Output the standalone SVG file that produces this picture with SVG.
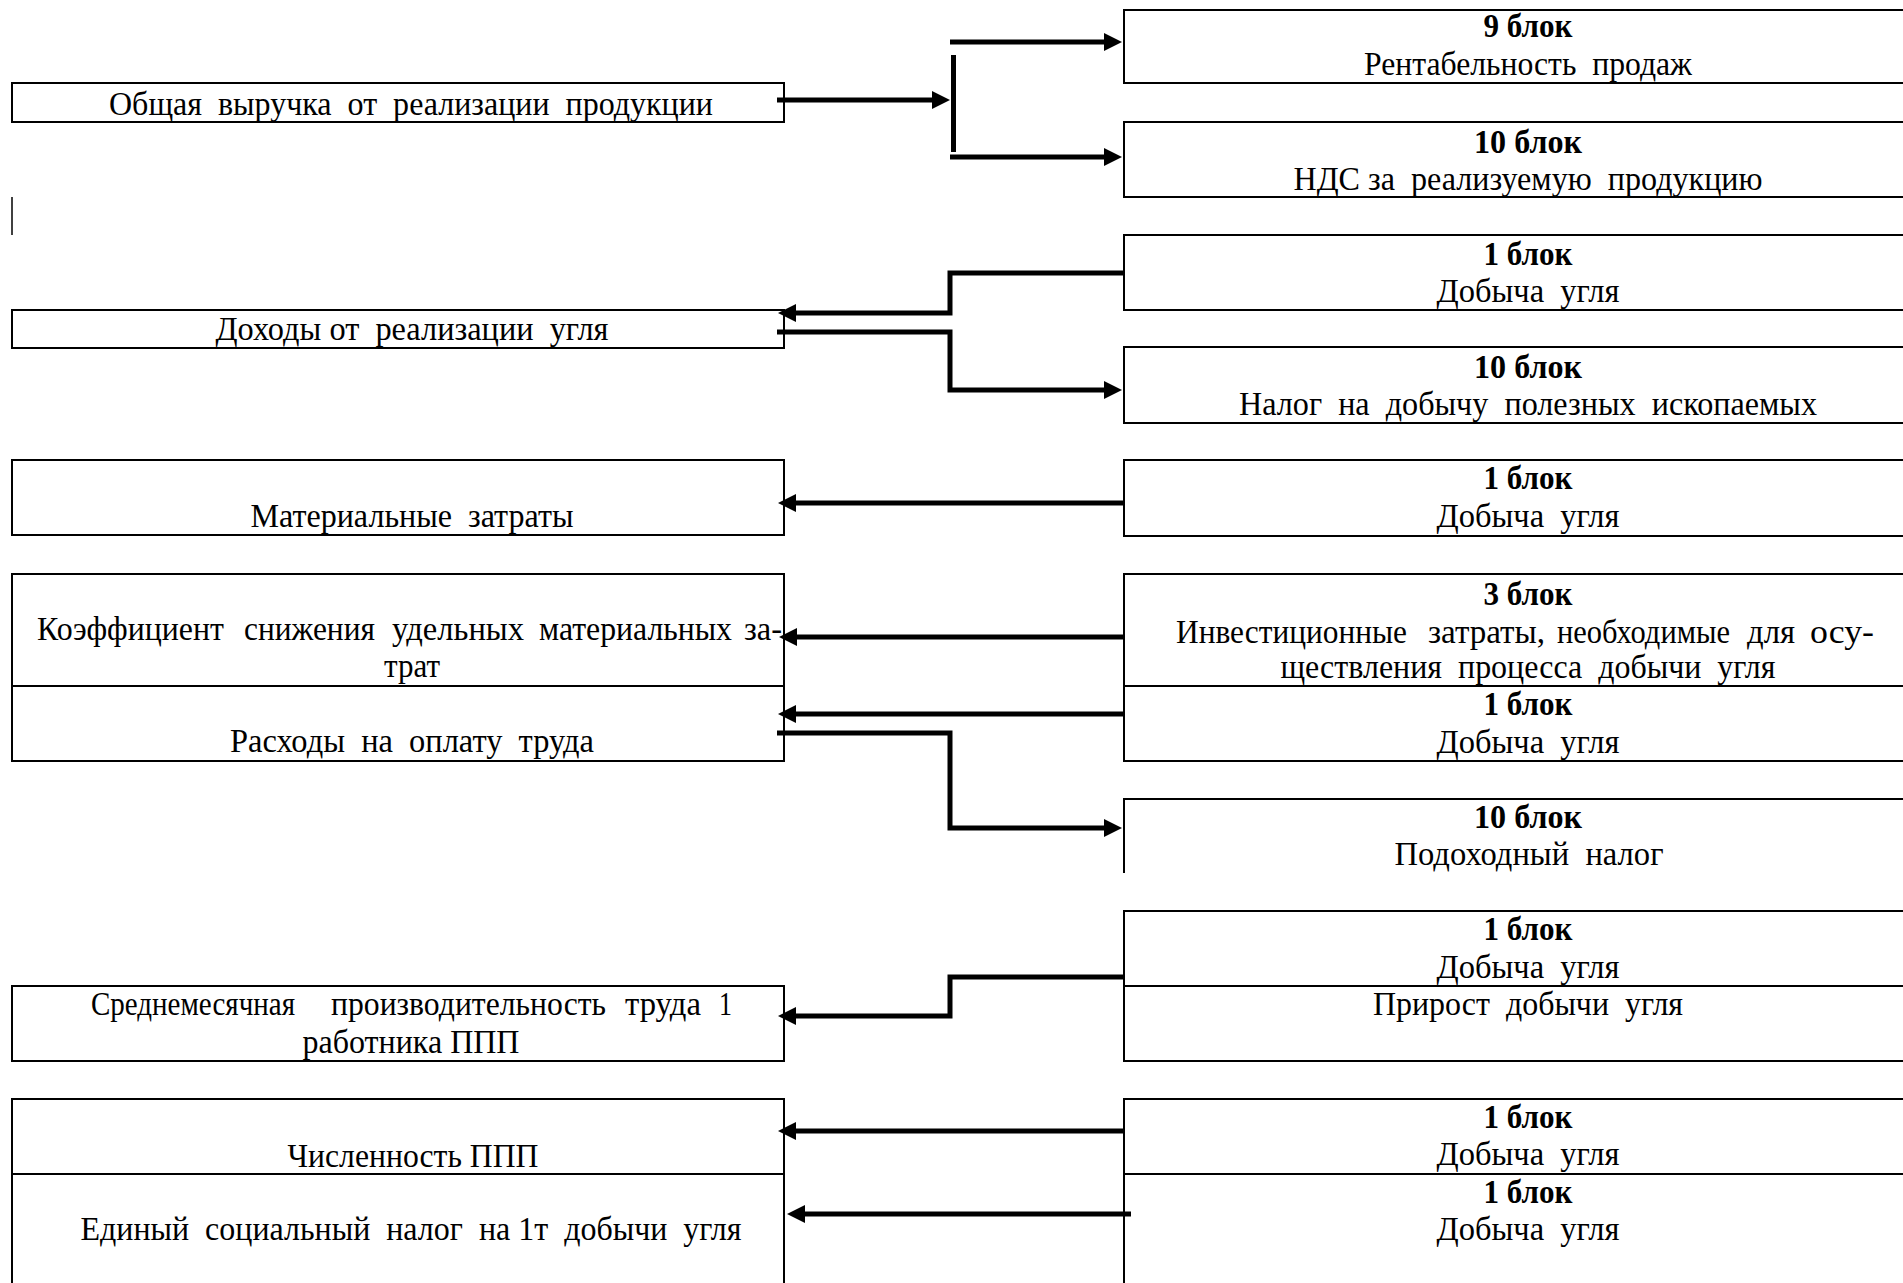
<svg xmlns="http://www.w3.org/2000/svg" width="1903" height="1283" viewBox="0 0 1903 1283">
  <style>
    .box { fill: none; stroke: #000; stroke-width: 2; }
    .t { font-family: "Liberation Serif", "Times New Roman", serif; font-size: 34px; fill: #000; text-anchor: middle; white-space: pre; }
    .j { text-anchor: start; }
    .b { font-weight: bold; }
    .c { fill: none; stroke: #000; stroke-width: 5; stroke-linejoin: miter; }
  </style>
  <defs>
    <marker id="ah" markerUnits="userSpaceOnUse" markerWidth="18" markerHeight="18" viewBox="0 0 18 18" refX="8" refY="9" orient="auto">
      <path d="M0,0 L18,9 L0,18 z" fill="#000"/>
    </marker>
  </defs>
  <rect width="1903" height="1283" fill="#fff"/>

  <!-- left column: indicators -->
  <g id="n-revenue-total">
    <rect class="box" x="12" y="83" width="772" height="39"/>
    <text class="t" x="411" y="115" textLength="604" lengthAdjust="spacingAndGlyphs">Общая  выручка  от  реализации  продукции</text>
  </g>
  <g id="n-coal-income">
    <rect class="box" x="12" y="310" width="772" height="38"/>
    <text class="t" x="412" y="340" textLength="393" lengthAdjust="spacingAndGlyphs">Доходы от  реализации  угля</text>
  </g>
  <g id="n-material-costs">
    <rect class="box" x="12" y="460" width="772" height="75"/>
    <text class="t" x="412" y="527" textLength="323" lengthAdjust="spacingAndGlyphs">Материальные  затраты</text>
  </g>
  <g id="n-material-coef">
    <rect class="box" x="12" y="574" width="772" height="112"/>
    <!-- justified first line, one word per text run -->
    <text class="t j" x="37" y="640" textLength="187" lengthAdjust="spacingAndGlyphs">Коэффициент</text>
    <text class="t j" x="244" y="640" textLength="131" lengthAdjust="spacingAndGlyphs">снижения</text>
    <text class="t j" x="392" y="640" textLength="132" lengthAdjust="spacingAndGlyphs">удельных</text>
    <text class="t j" x="539" y="640" textLength="193" lengthAdjust="spacingAndGlyphs">материальных</text>
    <text class="t j" x="744" y="640" textLength="38" lengthAdjust="spacingAndGlyphs">за-</text>
    <text class="t" x="412" y="677" textLength="56" lengthAdjust="spacingAndGlyphs">трат</text>
  </g>
  <g id="n-labour-costs">
    <rect class="box" x="12" y="686" width="772" height="75"/>
    <text class="t" x="412" y="752" textLength="364" lengthAdjust="spacingAndGlyphs">Расходы  на  оплату  труда</text>
  </g>
  <g id="n-productivity">
    <rect class="box" x="12" y="986" width="772" height="75"/>
    <text class="t j" x="91" y="1015" textLength="204" lengthAdjust="spacingAndGlyphs">Среднемесячная</text>
    <text class="t j" x="331" y="1015" textLength="275" lengthAdjust="spacingAndGlyphs">производительность</text>
    <text class="t j" x="625" y="1015" textLength="76" lengthAdjust="spacingAndGlyphs">труда</text>
    <text class="t j" x="719" y="1015" textLength="13" lengthAdjust="spacingAndGlyphs">1</text>
    <text class="t" x="411" y="1053" textLength="217" lengthAdjust="spacingAndGlyphs">работника ППП</text>
  </g>
  <g id="n-headcount">
    <rect class="box" x="12" y="1099" width="772" height="75"/>
    <text class="t" x="413" y="1167" textLength="251" lengthAdjust="spacingAndGlyphs">Численность ППП</text>
  </g>
  <g id="n-social-tax">
    <rect class="box" x="12" y="1174" width="772" height="130"/>
    <text class="t" x="411" y="1240" textLength="661" lengthAdjust="spacingAndGlyphs">Единый  социальный  налог  на 1т  добычи  угля</text>
  </g>

  <!-- right column: model blocks -->
  <g id="r-block9-profitability">
    <rect class="box" x="1124" y="10" width="820" height="73"/>
    <text class="t b" x="1528" y="37" textLength="89" lengthAdjust="spacingAndGlyphs">9 блок</text>
    <text class="t" x="1528" y="75" textLength="328" lengthAdjust="spacingAndGlyphs">Рентабельность  продаж</text>
  </g>
  <g id="r-block10-vat">
    <rect class="box" x="1124" y="122" width="820" height="75"/>
    <text class="t b" x="1528" y="153" textLength="108" lengthAdjust="spacingAndGlyphs">10 блок</text>
    <text class="t" x="1528" y="190" textLength="469" lengthAdjust="spacingAndGlyphs">НДС за  реализуемую  продукцию</text>
  </g>
  <g id="r-block1-mining-a">
    <rect class="box" x="1124" y="235" width="820" height="75"/>
    <text class="t b" x="1528" y="265" textLength="89" lengthAdjust="spacingAndGlyphs">1 блок</text>
    <text class="t" x="1528" y="302" textLength="183" lengthAdjust="spacingAndGlyphs">Добыча  угля</text>
  </g>
  <g id="r-block10-mineral-tax">
    <rect class="box" x="1124" y="347" width="820" height="76"/>
    <text class="t b" x="1528" y="378" textLength="108" lengthAdjust="spacingAndGlyphs">10 блок</text>
    <text class="t" x="1528" y="415" textLength="578" lengthAdjust="spacingAndGlyphs">Налог  на  добычу  полезных  ископаемых</text>
  </g>
  <g id="r-block1-mining-b">
    <rect class="box" x="1124" y="460" width="820" height="76"/>
    <text class="t b" x="1528" y="489" textLength="89" lengthAdjust="spacingAndGlyphs">1 блок</text>
    <text class="t" x="1528" y="527" textLength="183" lengthAdjust="spacingAndGlyphs">Добыча  угля</text>
  </g>
  <g id="r-block3-investment">
    <rect class="box" x="1124" y="574" width="820" height="112"/>
    <text class="t b" x="1528" y="605" textLength="89" lengthAdjust="spacingAndGlyphs">3 блок</text>
    <!-- justified second line, one word per text run -->
    <text class="t j" x="1176" y="643" textLength="231" lengthAdjust="spacingAndGlyphs">Инвестиционные</text>
    <text class="t j" x="1428" y="643" textLength="117" lengthAdjust="spacingAndGlyphs">затраты,</text>
    <text class="t j" x="1557" y="643" textLength="173" lengthAdjust="spacingAndGlyphs">необходимые</text>
    <text class="t j" x="1747" y="643" textLength="48" lengthAdjust="spacingAndGlyphs">для</text>
    <text class="t j" x="1810" y="643" textLength="64" lengthAdjust="spacingAndGlyphs">осу-</text>
    <text class="t" x="1528" y="678" textLength="495" lengthAdjust="spacingAndGlyphs">ществления  процесса  добычи  угля</text>
  </g>
  <g id="r-block1-mining-c">
    <rect class="box" x="1124" y="686" width="820" height="75"/>
    <text class="t b" x="1528" y="715" textLength="89" lengthAdjust="spacingAndGlyphs">1 блок</text>
    <text class="t" x="1528" y="753" textLength="183" lengthAdjust="spacingAndGlyphs">Добыча  угля</text>
  </g>
  <g id="r-block10-income-tax">
    <path class="box" d="M1944,799 H1124 V873"/>
    <text class="t b" x="1528" y="828" textLength="108" lengthAdjust="spacingAndGlyphs">10 блок</text>
    <text class="t" x="1529" y="865" textLength="269" lengthAdjust="spacingAndGlyphs">Подоходный  налог</text>
  </g>
  <g id="r-block1-mining-d">
    <rect class="box" x="1124" y="911" width="820" height="75"/>
    <text class="t b" x="1528" y="940" textLength="89" lengthAdjust="spacingAndGlyphs">1 блок</text>
    <text class="t" x="1528" y="978" textLength="183" lengthAdjust="spacingAndGlyphs">Добыча  угля</text>
  </g>
  <g id="r-output-growth">
    <rect class="box" x="1124" y="986" width="820" height="75"/>
    <text class="t" x="1528" y="1015" textLength="310" lengthAdjust="spacingAndGlyphs">Прирост  добычи  угля</text>
  </g>
  <g id="r-block1-mining-e">
    <rect class="box" x="1124" y="1099" width="820" height="75"/>
    <text class="t b" x="1528" y="1128" textLength="89" lengthAdjust="spacingAndGlyphs">1 блок</text>
    <text class="t" x="1528" y="1165" textLength="183" lengthAdjust="spacingAndGlyphs">Добыча  угля</text>
  </g>
  <g id="r-block1-mining-f">
    <rect class="box" x="1124" y="1174" width="820" height="130"/>
    <text class="t b" x="1528" y="1203" textLength="89" lengthAdjust="spacingAndGlyphs">1 блок</text>
    <text class="t" x="1528" y="1240" textLength="183" lengthAdjust="spacingAndGlyphs">Добыча  угля</text>
  </g>

  <!-- stray cursor mark -->
  <line x1="12" y1="197" x2="12" y2="235" stroke="#000" stroke-width="1.5"/>

  <!-- connectors -->
  <g id="connectors">
    <path class="c" d="M777,100 H940" marker-end="url(#ah)"/>
    <path class="c" d="M953.5,55 V152"/>
    <path class="c" d="M950,42 H1112" marker-end="url(#ah)"/>
    <path class="c" d="M950,157 H1112" marker-end="url(#ah)"/>
    <path class="c" d="M1124,273 H950 V313 H788" marker-end="url(#ah)"/>
    <path class="c" d="M777,332 H950 V390 H1112" marker-end="url(#ah)"/>
    <path class="c" d="M1124,503 H788" marker-end="url(#ah)"/>
    <path class="c" d="M1124,637 H789" marker-end="url(#ah)"/>
    <path class="c" d="M1124,714 H788" marker-end="url(#ah)"/>
    <path class="c" d="M777,733 H950 V828 H1112" marker-end="url(#ah)"/>
    <path class="c" d="M1124,977 H950 V1016 H788" marker-end="url(#ah)"/>
    <path class="c" d="M1124,1131 H788" marker-end="url(#ah)"/>
    <path class="c" d="M1131,1214 H797" marker-end="url(#ah)"/>
  </g>
</svg>
